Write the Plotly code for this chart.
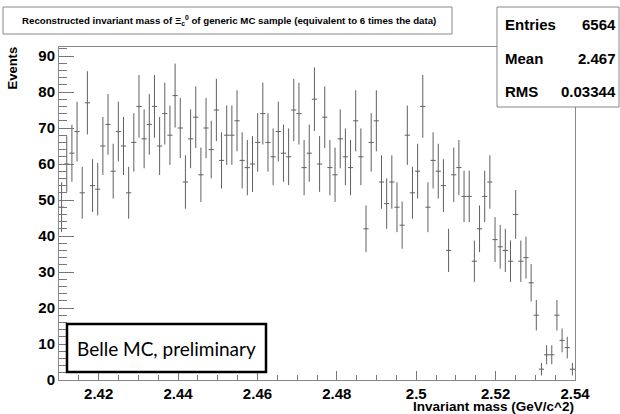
import numpy as np
import plotly.graph_objects as go

# ---------------- data ----------------
x_min, x_max, n_bins = 2.41, 2.54, 100
counts = [
    48, 60, 63, 69, 52, 77, 54, 53, 65, 71,
    58, 69, 65, 52, 66, 76, 67, 71, 76, 65,
    74, 68, 79, 70, 55, 67, 73, 57, 70, 64,
    75, 61, 68, 68, 72, 61, 59, 60, 66, 74,
    66, 62, 69, 63, 62, 75, 74, 59, 63, 78,
    60, 73, 59, 57, 67, 62, 59, 72, 62, 42,
    66, 72, 55, 49, 55, 48, 43, 68, 52, 58,
    76, 48, 61, 58, 54, 36, 57, 59, 51, 51,
    33, 42, 51, 55, 39, 37, 36, 33, 46, 33,
    34, 27, 18, 3, 7, 7, 18, 11, 9, 3,
]
x_tickvals = [2.42, 2.44, 2.46, 2.48, 2.50, 2.52, 2.54]
x_ticktext = ["2.42", "2.44", "2.46", "2.48", "2.5", "2.52", "2.54"]
y_tickvals = [0, 10, 20, 30, 40, 50, 60, 70, 80, 90]
stats_labels = ["Entries", "Mean", "RMS"]
stats_values = ["6564", "2.467", "0.03344"]
title_text = ("Reconstructed invariant mass of Ξ<sub>c</sub><sup>0</sup> of generic MC sample "
              "(equivalent to 6 times the data)")
label_text = "Belle MC, preliminary"

bin_w = (x_max - x_min) / n_bins
centers = x_min + bin_w * (np.arange(n_bins) + 0.5)
errs = np.sqrt(np.array(counts, dtype=float))

# ---------------- layout geometry (pixels) ----------------
W, H = 620, 414
L, R, T, B = 59, 45, 47, 34
PW, PH = W - L - R, H - T - B


def px(xp):
    return (xp - L) / PW


def py(yp):
    return (H - B - yp) / PH


fig = go.Figure()
fig.add_trace(go.Scatter(
    x=centers, y=counts, mode="markers",
    marker=dict(size=0.1, color="rgba(0,0,0,0)"),
    error_y=dict(type="data", array=errs, visible=True, color="#606060", thickness=1, width=0),
    error_x=dict(type="constant", value=bin_w / 2, visible=True, color="#606060", thickness=1, width=0),
    showlegend=False, hoverinfo="skip",
))

tickfont = dict(family="Liberation Sans, Arial, sans-serif", size=15, color="black", weight="bold")

fig.update_layout(
    width=W, height=H,
    margin=dict(l=L, r=R, t=T, b=B),
    paper_bgcolor="white", plot_bgcolor="white",
    xaxis=dict(
        range=[x_min, x_max], showgrid=False, zeroline=False,
        showline=True, linecolor="#888", linewidth=1, mirror=True,
        tickvals=x_tickvals, ticktext=x_ticktext, ticks="inside", ticklen=9,
        tickcolor="#777", tickfont=tickfont,
        minor=dict(dtick=0.005, tick0=2.41, ticks="inside", ticklen=5, tickcolor="#777"),
    ),
    yaxis=dict(
        range=[0, 92.5], showgrid=False, zeroline=False,
        showline=True, linecolor="#888", linewidth=1, mirror=True,
        tickvals=y_tickvals, ticks="inside", ticklen=15, tickcolor="#777",
        tickfont=tickfont,
        minor=dict(dtick=2, tick0=0, ticks="inside", ticklen=8, tickcolor="#777"),
    ),
)

shapes = []
annotations = []

# title box
shapes.append(dict(type="rect", xref="paper", yref="paper",
                   x0=px(3), x1=px(452), y0=py(34), y1=py(7),
                   line=dict(color="#888", width=1), fillcolor="white", layer="above"))
annotations.append(dict(xref="paper", yref="paper", x=px(229), y=py(20.5),
                        xanchor="center", yanchor="middle", showarrow=False,
                        text=title_text,
                        font=dict(family="Liberation Sans, Arial, sans-serif", size=9.7,
                                  color="black", weight="bold")))

# stats box
shapes.append(dict(type="rect", xref="paper", yref="paper",
                   x0=px(497), x1=px(619), y0=py(107), y1=py(7),
                   line=dict(color="#888", width=1), fillcolor="white", layer="above"))
row_y = [25, 58, 91]
sfont = dict(family="Liberation Sans, Arial, sans-serif", size=15, color="black", weight="bold")
for lab, val, yy in zip(stats_labels, stats_values, row_y):
    annotations.append(dict(xref="paper", yref="paper", x=px(503), y=py(yy),
                            xanchor="left", yanchor="middle", showarrow=False,
                            text=lab, font=sfont))
    annotations.append(dict(xref="paper", yref="paper", x=px(618), y=py(yy),
                            xanchor="right", yanchor="middle", showarrow=False,
                            text=val, font=sfont))

# Belle box
shapes.append(dict(type="rect", xref="paper", yref="paper",
                   x0=px(67), x1=px(266), y0=py(372), y1=py(324),
                   line=dict(color="black", width=2.5), fillcolor="white", layer="above"))
annotations.append(dict(xref="paper", yref="paper", x=px(166), y=py(348),
                        xanchor="center", yanchor="middle", showarrow=False,
                        text=label_text,
                        font=dict(family="Lato, Open Sans, sans-serif", size=19, color="black")))

# axis titles
annotations.append(dict(xref="paper", yref="paper", x=px(12), y=py(45),
                        xanchor="center", yanchor="top", showarrow=False, textangle=-90,
                        text="Events",
                        font=dict(family="Liberation Sans, Arial, sans-serif", size=13,
                                  color="black", weight="bold")))
annotations.append(dict(xref="paper", yref="paper", x=px(576), y=py(406),
                        xanchor="right", yanchor="middle", showarrow=False,
                        text="Invariant mass (GeV/c^2)",
                        font=dict(family="Liberation Sans, Arial, sans-serif", size=13.5,
                                  color="black", weight="bold")))

fig.update_layout(shapes=shapes, annotations=annotations)
fig.write_html("out.html", config={"displayModeBar": False},
               post_script="document.body.style.margin='0';document.body.style.overflow='hidden';")
